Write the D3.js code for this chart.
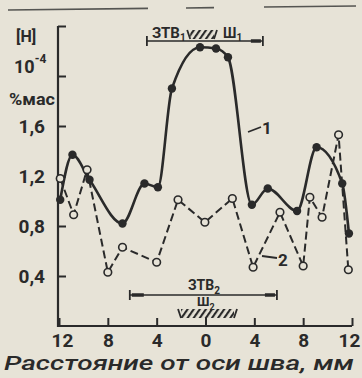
<!DOCTYPE html>
<html>
<head>
<meta charset="utf-8">
<script src="https://cdn.jsdelivr.net/npm/d3@7"></script>
<style>
  html, body { margin: 0; padding: 0; background: #e7e3d7; }
  svg { display: block; }
  text { font-family: Roboto, "DejaVu Sans", sans-serif; fill: #2a2a2a; }
</style>
</head>
<body>
<div id="chart"></div>
<script>
// distance from weld axis, mm (left side negative)
const xTicks = [-12, -8, -4, 0, 4, 8, 12];
const yTicks = [0.4, 0.8, 1.2, 1.6, 2.0, 2.4];
const yTickLabels = ["0,4", "0,8", "1,2", "1,6", "", ""];

// curve 1 (solid, filled markers)
const s1x = [-11.9, -10.9, -9.5, -6.8, -5.0, -3.9, -2.75, -0.45, 0.86, 1.84, 3.8, 5.1, 7.5, 9.1, 11.2, 11.75];
const s1y = [1.01, 1.37, 1.17, 0.82, 1.14, 1.11, 1.90, 2.23, 2.22, 2.15, 0.97, 1.10, 0.92, 1.43, 1.14, 0.74];

// curve 2 (dashed, open markers)
const s2x = [-11.9, -10.8, -9.7, -8.0, -6.8, -4.0, -2.25, -0.05, 2.2, 3.9, 6.1, 8.0, 8.55, 9.55, 10.9, 11.7];
const s2y = [1.18, 0.89, 1.25, 0.43, 0.63, 0.51, 1.01, 0.83, 1.02, 0.47, 0.91, 0.48, 1.03, 0.87, 1.53, 0.45];

// zones: heat affected zone and weld
const ztv1 = [-4.8, 4.7];
const sh1 = [-1.5, 0.94];
const ztv2 = [-6.2, 5.85];
const sh2 = [-2.25, 2.58];

const W = 362, H = 378;
const ink = "#2a2a2a";

const svg = d3.select("#chart").append("svg")
  .attr("width", W).attr("height", H);

const defs = svg.append("defs");
defs.append("pattern")
  .attr("id", "hatch")
  .attr("patternUnits", "userSpaceOnUse")
  .attr("width", 5).attr("height", 5)
  .attr("patternTransform", "rotate(35)")
  .append("line")
  .attr("x1", 1).attr("y1", 0).attr("x2", 1).attr("y2", 5)
  .attr("stroke", ink).attr("stroke-width", 2.3);

// page edge scratch at the top of the scan
svg.append("line")
  .attr("x1", 8).attr("y1", 10).attr("x2", 356).attr("y2", 6)
  .attr("stroke", "#555552").attr("stroke-width", 1.6)
  .attr("stroke-dasharray", "140 38 28 50 100");

const x = d3.scaleLinear().domain([-12, 12]).range([59, 352]);
const y = d3.scaleLinear().domain([0, 2.4]).range([326, 26]);

// y axis
const yAxis = svg.append("g")
  .attr("transform", "translate(58,0)")
  .call(d3.axisLeft(y)
    .tickValues(yTicks)
    .tickFormat((d, i) => yTickLabels[i])
    .tickSize(-8)
    .tickSizeOuter(0)
    .tickPadding(13));
yAxis.select(".domain").attr("d", "M0," + y(2.4) + "V" + (y(0) + 1))
  .attr("stroke", ink).attr("stroke-width", 2.2);
yAxis.selectAll(".tick line").attr("stroke", ink).attr("stroke-width", 2);
yAxis.selectAll(".tick text")
  .style("font-size", "19px").style("font-weight", "700")
  .style("font-family", "Roboto, sans-serif")
  .attr("fill", ink);

// x axis
const xAxis = svg.append("g")
  .attr("transform", "translate(0,326)")
  .call(d3.axisBottom(x)
    .tickValues(xTicks)
    .tickFormat(d => Math.abs(d))
    .tickSize(-8)
    .tickSizeOuter(0)
    .tickPadding(8));
xAxis.select(".domain").attr("d", "M57,0H" + x(12))
  .attr("stroke", ink).attr("stroke-width", 2.2);
xAxis.selectAll(".tick line").attr("stroke", ink).attr("stroke-width", 2);
xAxis.selectAll(".tick text")
  .style("font-size", "19px").style("font-weight", "700")
  .style("font-family", "Roboto, sans-serif")
  .attr("fill", ink);
xAxis.selectAll(".tick").filter(d => d === -12).select("text").attr("dx", 3);
xAxis.selectAll(".tick").filter(d => d === 12).select("text").attr("dx", -3);

// unit labels on the left
svg.append("text").attr("x", 16).attr("y", 42)
  .style("font-size", "16px").style("font-weight", "700").text("[H]");
const pw = svg.append("text").attr("x", 14).attr("y", 73)
  .style("font-size", "18px").style("font-weight", "700");
pw.append("tspan").text("10");
pw.append("tspan").attr("dy", -10).style("font-size", "12px").text("-4");
svg.append("text").attr("x", 9).attr("y", 105)
  .style("font-size", "16px").style("font-weight", "700")
  .attr("textLength", 46).attr("lengthAdjust", "spacingAndGlyphs")
  .text("%мас");

// axis title
svg.append("text").attr("x", 4).attr("y", 370)
  .style("font-size", "20px").style("font-style", "italic").style("font-weight", "500")
  .attr("textLength", 350).attr("lengthAdjust", "spacingAndGlyphs")
  .text("Расстояние от оси шва, мм");

// zone bracket helper
function bracket(r, yy) {
  const g = svg.append("g");
  g.append("line").attr("x1", x(r[0])).attr("x2", x(r[1]))
    .attr("y1", yy).attr("y2", yy).attr("stroke", ink).attr("stroke-width", 1.6);
  r.forEach(v => {
    g.append("line").attr("x1", x(v)).attr("x2", x(v))
      .attr("y1", yy - 5).attr("y2", yy + 5)
      .attr("stroke", ink).attr("stroke-width", 1.8);
  });
  return g;
}
function hatch(r, y0, h) {
  svg.append("rect").attr("x", x(r[0]) + 3).attr("y", y0)
    .attr("width", x(r[1]) - x(r[0]) - 6).attr("height", h)
    .attr("fill", "url(#hatch)");
  svg.append("line").attr("x1", x(r[0])).attr("x2", x(r[0]) + 3)
    .attr("y1", y0).attr("y2", y0 + h).attr("stroke", ink).attr("stroke-width", 1.8);
  svg.append("line").attr("x1", x(r[1]) - 3).attr("x2", x(r[1]))
    .attr("y1", y0 + h).attr("y2", y0).attr("stroke", ink).attr("stroke-width", 1.8);
}

// top: ЗТВ1 and Ш1
const b1 = bracket(ztv1, 41);
b1.append("line").attr("x1", x(ztv1[1]) - 12).attr("x2", x(ztv1[1]) - 2)
  .attr("y1", 41).attr("y2", 41).attr("stroke", ink).attr("stroke-width", 3.5);
const t1 = svg.append("text").attr("x", x(ztv1[0]) + 5).attr("y", 38)
  .style("font-size", "15px").style("font-weight", "700");
t1.append("tspan").text("ЗТВ");
t1.append("tspan").attr("dy", 3).style("font-size", "10px").text("1");
hatch(sh1, 30, 9);
const t2 = svg.append("text").attr("x", x(sh1[1]) + 6).attr("y", 38)
  .style("font-size", "14px").style("font-weight", "700");
t2.append("tspan").text("Ш");
t2.append("tspan").attr("dy", 3).style("font-size", "10px").text("1");

// bottom: ЗТВ2 and Ш2
const b2 = bracket(ztv2, 295);
b2.append("line").attr("x1", x(ztv2[0]) + 2).attr("x2", x(ztv2[0]) + 14)
  .attr("y1", 295).attr("y2", 295).attr("stroke", ink).attr("stroke-width", 3.5);
b2.append("line").attr("x1", x(ztv2[1]) - 12).attr("x2", x(ztv2[1]) - 2)
  .attr("y1", 295).attr("y2", 295).attr("stroke", ink).attr("stroke-width", 3.5);
const t3 = svg.append("text").attr("x", 188).attr("y", 290)
  .style("font-size", "14px").style("font-weight", "700");
t3.append("tspan").text("ЗТВ");
t3.append("tspan").attr("dy", 4).style("font-size", "10px").text("2");
const t4 = svg.append("text").attr("x", 197).attr("y", 306)
  .style("font-size", "13px").style("font-weight", "700");
t4.append("tspan").text("Ш");
t4.append("tspan").attr("dy", 4).style("font-size", "9px").text("2");
hatch(sh2, 309, 9);

// curves
const pts1 = s1x.map((v, i) => [v, s1y[i]]);
const pts2 = s2x.map((v, i) => [v, s2y[i]]);

svg.append("path")
  .attr("d", d3.line().x(d => x(d[0])).y(d => y(d[1])).curve(d3.curveLinear)(pts2))
  .attr("fill", "none").attr("stroke", ink).attr("stroke-width", 2)
  .attr("stroke-dasharray", "8 4");

svg.append("path")
  .attr("d", d3.line().x(d => x(d[0])).y(d => y(d[1])).curve(d3.curveMonotoneX)(pts1))
  .attr("fill", "none").attr("stroke", ink).attr("stroke-width", 2.6);

svg.append("g").selectAll("circle")
  .data(pts2).enter().append("circle")
  .attr("cx", d => x(d[0])).attr("cy", d => y(d[1])).attr("r", 3.8)
  .attr("fill", "#e7e3d7").attr("stroke", ink).attr("stroke-width", 1.6);

svg.append("g").selectAll("circle")
  .data(pts1).enter().append("circle")
  .attr("cx", d => x(d[0])).attr("cy", d => y(d[1])).attr("r", 4.2)
  .attr("fill", ink);

// curve numbers with leaders
svg.append("line").attr("x1", 248).attr("y1", 132).attr("x2", 261).attr("y2", 127)
  .attr("stroke", ink).attr("stroke-width", 1.8);
svg.append("text").attr("x", 262).attr("y", 134)
  .style("font-size", "17px").style("font-weight", "700").text("1");
svg.append("line").attr("x1", 262).attr("y1", 256).attr("x2", 277).attr("y2", 258)
  .attr("stroke", ink).attr("stroke-width", 1.8);
svg.append("text").attr("x", 278).attr("y", 266)
  .style("font-size", "17px").style("font-weight", "700").text("2");
</script>
</body>
</html>
